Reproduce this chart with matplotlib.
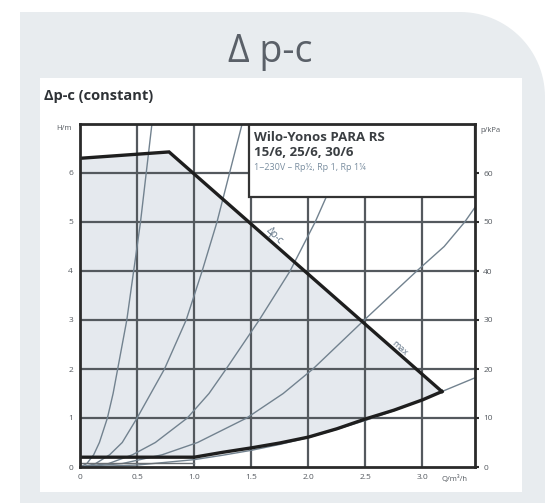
import numpy as np
import matplotlib
matplotlib.use("Agg")
import matplotlib.pyplot as plt
from matplotlib.patches import Rectangle, Polygon

plt.rcParams['font.family'] = ['Open Sans', 'DejaVu Sans']

# Data
x_ticks = [0, 0.5, 1.0, 1.5, 2.0, 2.5, 3.0]
x_tick_labels = ["0", "0.5", "1.0", "1.5", "2.0", "2.5", "3.0"]
h_ticks = [0, 1, 2, 3, 4, 5, 6]
p_ticks = [0, 10, 20, 30, 40, 50, 60]

# max curve of the pump (delta p-c)
upper_q = [0.0, 0.78, 3.17]
upper_h = [6.3, 6.43, 1.54]
# min curve
lower_q = [0.0, 1.0, 1.25, 1.5, 1.75, 2.0, 2.25, 2.5, 2.75, 3.0, 3.17]
lower_h = [0.2, 0.2, 0.3, 0.39, 0.49, 0.61, 0.78, 0.98, 1.16, 1.37, 1.54]

# system curves
sys1_q = [0.0, 0.06, 0.12, 0.17, 0.24, 0.29, 0.33, 0.41, 0.47, 0.53, 0.58, 0.63]
sys1_h = [0.0, 0.07, 0.25, 0.5, 1.0, 1.5, 2.0, 3.0, 4.0, 5.0, 6.0, 7.0]
sys2_q = [0.0, 0.13, 0.26, 0.37, 0.5, 0.62, 0.74, 0.93, 1.07, 1.2, 1.31, 1.42]
sys2_h = [0.0, 0.06, 0.25, 0.5, 1.0, 1.5, 2.0, 3.0, 4.0, 5.0, 6.0, 7.0]
sys3_q = [0.0, 0.25, 0.46, 0.66, 0.94, 1.13, 1.28, 1.57, 1.84, 2.06, 2.25, 2.44]
sys3_h = [0.0, 0.07, 0.25, 0.5, 1.0, 1.5, 2.0, 3.0, 4.0, 5.0, 6.0, 7.0]
sys4_q = [0.0, 0.37, 0.72, 1.03, 1.46, 1.78, 2.04, 2.49, 2.95, 3.19, 3.37, 3.46]
sys4_h = [0.0, 0.07, 0.25, 0.5, 1.0, 1.5, 2.0, 3.0, 4.0, 4.5, 5.0, 5.3]
sys5_q = [0.0, 0.5, 1.0, 1.25, 1.5, 1.75, 2.0, 2.25, 2.5, 2.75, 3.0, 3.17, 3.46]
sys5_h = [0.0, 0.04, 0.15, 0.24, 0.34, 0.46, 0.6, 0.77, 0.95, 1.15, 1.37, 1.54, 1.82]

PANEL = "#e8ecef"
FILL = "#e5e9ee"
GRID = "#54595e"
SYS = "#72828f"

fig = plt.figure(figsize=(5.45, 5.03), dpi=100)
fig.patch.set_facecolor("white")

# gray panel with rounded top-right corner (pixel coords -> figure fraction)
W, H = 545.0, 503.0
r = 85.0
ang = np.linspace(np.pi / 2, 0, 30)
arc_x = 545 - r + r * np.cos(ang)
arc_y = 12 + r - r * np.sin(ang)
px = np.r_[20, arc_x, 545, 20]
py = np.r_[12, arc_y, 503, 503]
fig.patches.append(Polygon(np.c_[px / W, 1 - py / H], closed=True,
                           transform=fig.transFigure, facecolor=PANEL,
                           edgecolor="none", zorder=-2))
fig.patches.append(Rectangle((40 / W, 1 - 492 / H), 482 / W, 414 / H,
                             transform=fig.transFigure, facecolor="white",
                             edgecolor="none", zorder=-1))

fig.text(270 / W, 1 - 52 / H, "Δ p-c", ha="center", va="center",
         fontsize=27, color="#5a6068")
fig.text(44 / W, 1 - 96 / H, "Δp-c (constant)", ha="left", va="center",
         fontsize=10.5, fontweight="bold", color="#2e3236")

ax = fig.add_axes([80 / W, 1 - 467 / H, 395 / W, 343 / H])
ax.set_zorder(2)
ax.set_xlim(0, 3.46)
ax.set_ylim(0, 7)
ax.set_facecolor("white")

# operating range
ax.fill(np.r_[upper_q, lower_q[::-1]], np.r_[upper_h, lower_h[::-1]],
        color=FILL, lw=0, zorder=1)

for xv in x_ticks[1:]:
    ax.axvline(xv, color=GRID, lw=1.6, zorder=2)
for yv in h_ticks[1:]:
    ax.axhline(yv, color=GRID, lw=1.6, zorder=2)

for q, h in [(sys1_q, sys1_h), (sys2_q, sys2_h), (sys3_q, sys3_h),
             (sys4_q, sys4_h), (sys5_q, sys5_h)]:
    ax.plot(q, h, color=SYS, lw=1.0, zorder=3)

ax.plot(upper_q, upper_h, color="#1e1e1e", lw=2.4, zorder=5,
        solid_joinstyle="miter")
ax.plot(lower_q, lower_h, color="#1e1e1e", lw=2.4, zorder=5)
ax.plot([0, 1.0], [0.08, 0.08], color="#6a6f74", lw=1.0, zorder=4)

# legend box
ax.add_patch(Rectangle((1.48, 5.5), 3.46 - 1.48, 1.5, facecolor="white",
                       edgecolor="#333333", lw=1.6, zorder=6))
ax.text(1.52, 6.72, "Wilo-Yonos PARA RS", fontsize=9.5, fontweight="bold",
        color="#3a3e42", va="center", zorder=7)
ax.text(1.52, 6.41, "15/6, 25/6, 30/6", fontsize=9.5, fontweight="bold",
        color="#3a3e42", va="center", zorder=7)
ax.text(1.52, 6.12, "1~230V – Rp½, Rp 1, Rp 1¼", fontsize=6.5,
        color="#7a8ea0", va="center", zorder=7)

ax.text(1.7, 4.72, "Δp-c", fontsize=7, color="#5f7285", rotation=-45,
        ha="center", va="center", zorder=7)
ax.text(2.8, 2.42, "max", fontsize=6.5, color="#5f7285", rotation=-42,
        ha="center", va="center", zorder=7)

for s in ax.spines.values():
    s.set_linewidth(2.0)
    s.set_color("#2a2a2a")
    s.set_zorder(8)
ax.set_xticks(x_ticks)
ax.set_xticklabels(x_tick_labels)
ax.set_yticks(h_ticks)
ax.tick_params(length=0, labelsize=6, labelcolor="#555a60", pad=5)

ax2 = ax.twinx()
ax2.set_zorder(3)
ax2.patch.set_visible(False)
ax2.set_ylim(0, 70)
ax2.set_yticks(p_ticks)
ax2.tick_params(length=3, width=1.5, labelsize=6, labelcolor="#555a60",
                pad=3, color="#2a2a2a")
for s in ax2.spines.values():
    s.set_visible(False)

fig.text(64 / W, 1 - 129 / H, "H/m", fontsize=5.5, color="#555a60",
         ha="center", va="center")
fig.text(490 / W, 1 - 130 / H, "p/kPa", fontsize=5.5, color="#555a60",
         ha="center", va="center")
fig.text(455 / W, 1 - 479 / H, "Q/m³/h", fontsize=5.5, color="#555a60",
         ha="center", va="center")

fig.savefig("out.png", dpi=100)
